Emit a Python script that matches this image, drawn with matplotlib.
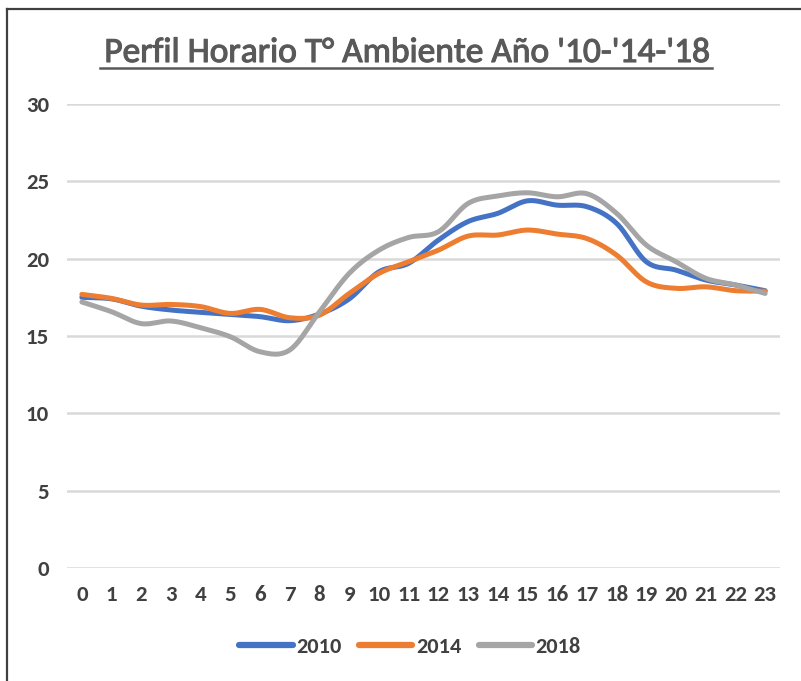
import numpy as np
import matplotlib
matplotlib.use("Agg")
import matplotlib.pyplot as plt
from matplotlib import font_manager
from matplotlib.lines import Line2D
import matplotlib.patheffects as pe

hours = list(range(24))
hour_labels = [str(h) for h in hours]
y_ticks = [0, 5, 10, 15, 20, 25, 30]

t2010 = [17.5, 17.4, 16.93, 16.68, 16.53, 16.4, 16.25, 15.99, 16.42, 17.4, 19.15, 19.7,
         21.2, 22.4, 22.93, 23.74, 23.46, 23.36, 22.28, 19.8, 19.26, 18.62, 18.3, 17.93]
t2014 = [17.69, 17.43, 17.0, 17.04, 16.9, 16.46, 16.72, 16.18, 16.35, 17.75, 19.05, 19.8,
         20.55, 21.46, 21.53, 21.85, 21.59, 21.3, 20.23, 18.5, 18.08, 18.18, 17.93, 17.9]
t2018 = [17.2, 16.57, 15.8, 15.97, 15.53, 14.95, 13.98, 14.1, 16.57, 19.05, 20.55, 21.37,
         21.74, 23.57, 24.05, 24.26, 24.0, 24.2, 22.93, 20.88, 19.8, 18.73, 18.3, 17.75]

series = [("2010", t2010, "#4472C4"), ("2014", t2014, "#ED7D31"), ("2018", t2018, "#A5A5A5")]

available = {f.name for f in font_manager.fontManager.ttflist}
main = next((f for f in ["Carlito", "Calibri", "Open Sans"] if f in available), "DejaVu Sans")
plt.rcParams['font.family'] = [main, "DejaVu Sans"]


def smooth(x, y, n=20):
    x = np.asarray(x, float)
    y = np.asarray(y, float)
    px = np.concatenate([[2 * x[0] - x[1]], x, [2 * x[-1] - x[-2]]])
    py = np.concatenate([[2 * y[0] - y[1]], y, [2 * y[-1] - y[-2]]])
    xs, ys = [], []
    for i in range(1, len(px) - 2):
        t = np.linspace(0, 1, n, endpoint=False)
        for arr, out in ((px, xs), (py, ys)):
            p0, p1, p2, p3 = arr[i - 1], arr[i], arr[i + 1], arr[i + 2]
            out.extend(0.5 * ((2 * p1) + (-p0 + p2) * t + (2 * p0 - 5 * p1 + 4 * p2 - p3) * t ** 2
                              + (-p0 + 3 * p1 - 3 * p2 + p3) * t ** 3))
    xs.append(x[-1]); ys.append(y[-1])
    return np.array(xs), np.array(ys)


fig = plt.figure(figsize=(8.01, 6.81), dpi=100)
ax = fig.add_axes([67 / 801, 113 / 681, 713 / 801, (568 - 104) / 681])

for name, vals, col in series:
    sx, sy = smooth(hours, vals)
    ax.plot(sx, sy, color=col, lw=3.6, solid_capstyle='round', label=name)

ax.set_xlim(-0.5, 23.5)
ax.set_ylim(0, 30)
ax.set_yticks(y_ticks)
ax.set_xticks(hours)
ax.set_xticklabels(hour_labels)
ax.yaxis.grid(True, color="#D9D9D9", lw=1.8)
ax.set_axisbelow(True)
for s in ax.spines.values():
    s.set_visible(False)
ax.tick_params(length=0, labelsize=16.5, colors="#404040")
ax.tick_params(axis='y', pad=13)
ax.tick_params(axis='x', pad=12)
for lab in ax.get_xticklabels() + ax.get_yticklabels():
    lab.set_fontweight('bold')

title = fig.text(406 / 801, 1 - 53 / 681, "Perfil Horario T° Ambiente Año '10-'14-'18", ha='center', va='center',
                 fontsize=25.5, color="#595959",
                 path_effects=[pe.withStroke(linewidth=0.8, foreground="#595959")])
# underline
fig.add_artist(Line2D([100 / 801, 712 / 801], [1 - 68 / 681, 1 - 68 / 681], color="#595959", lw=1.8,
                      transform=fig.transFigure))

handles = [Line2D([0], [0], color=c, lw=4.5, solid_capstyle='round') for _, _, c in series]
leg = fig.legend(handles, [n for n, _, _ in series], loc='center', bbox_to_anchor=(410 / 801, 1 - 647 / 681),
                 ncol=3, frameon=False, handlelength=2.4, columnspacing=0.8, handletextpad=0.15,
                 prop={'size': 16, 'weight': 'bold'})
for t in leg.get_texts():
    t.set_color("#404040")

# outer frame (left and top)
fig.add_artist(Line2D([6.5 / 801, 6.5 / 801], [0, 1 - 9 / 681], color="#404040", lw=1.6, transform=fig.transFigure))
fig.add_artist(Line2D([6.5 / 801, 1], [1 - 9 / 681, 1 - 9 / 681], color="#404040", lw=1.6, transform=fig.transFigure))

fig.savefig("out.png", dpi=100)
